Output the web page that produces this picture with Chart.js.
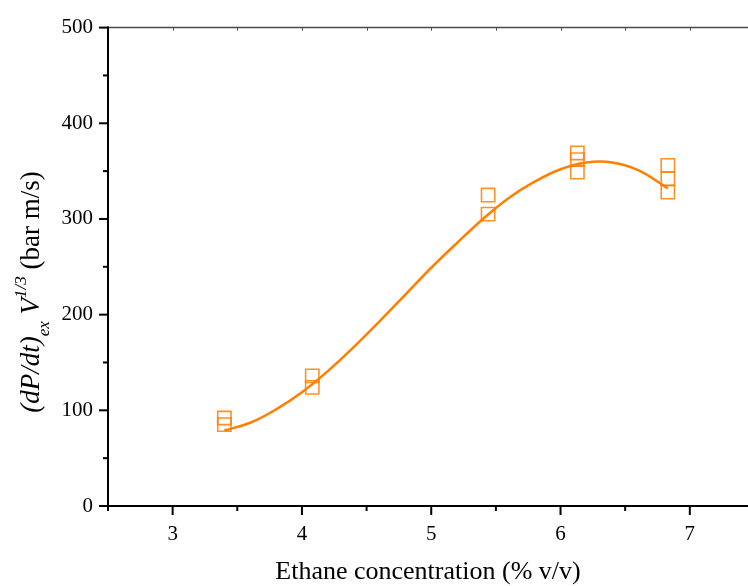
<!DOCTYPE html>
<html>
<head>
<meta charset="utf-8">
<script src="https://cdn.jsdelivr.net/npm/chart.js@4/dist/chart.umd.min.js"></script>
<style>
  html, body { margin: 0; padding: 0; background: #ffffff; }
  #wrap { width: 748px; height: 586px; }
</style>
</head>
<body>
<div id="wrap"><canvas id="c" width="748" height="586"></canvas></div>
<script>
// Measured rate of pressure rise (repeat runs at each concentration)
const concX = [3.4, 3.4, 4.08, 4.08, 5.44, 5.44, 6.13, 6.13, 6.13, 6.83, 6.83, 6.83];
const kstValues = [92, 85, 136, 124, 325, 305, 369, 362, 349, 356, 342, 328];

// Fitted trend line, sampled along the curve
const fitX = [3.40, 3.60, 3.80, 4.00, 4.20, 4.40, 4.60, 4.80, 5.00, 5.20, 5.40, 5.60, 5.80, 6.00, 6.20, 6.40, 6.60, 6.83];
const fitY = [79, 87, 101, 119, 141, 166, 193, 221, 249, 275, 300, 322, 339, 352, 359, 359, 351, 332];

// Axis ticks
const xMajorTicks = [3, 4, 5, 6, 7];
const xMinorTicks = [2.5, 3.5, 4.5, 5.5, 6.5];
const yMajorTicks = [0, 100, 200, 300, 400, 500];
const yMinorTicks = [50, 150, 250, 350, 450];

const ORANGE = '#ff7f00';
const SERIF = '"Liberation Serif", "DejaVu Serif", serif';

const measured = concX.map((x, i) => ({ x: x, y: kstValues[i] }));
const fitted = fitX.map((x, i) => ({ x: x, y: fitY[i] }));

// Axis lines, tick marks and the composite y-axis title
const frame = {
  id: 'frame',
  afterDraw(chart) {
    const { ctx, chartArea: a, scales: { x, y } } = chart;
    ctx.save();
    ctx.lineCap = 'butt';

    // top border with small inward ticks
    ctx.strokeStyle = '#4a4a4a';
    ctx.lineWidth = 1.5;
    ctx.beginPath();
    ctx.moveTo(a.left, a.top);
    ctx.lineTo(chart.width, a.top);
    ctx.stroke();
    ctx.lineWidth = 1;
    for (const v of xMajorTicks.concat(xMinorTicks, [7.5])) {
      const px = Math.round(x.getPixelForValue(v)) + 0.5;
      ctx.beginPath();
      ctx.moveTo(px, a.top);
      ctx.lineTo(px, a.top + 3);
      ctx.stroke();
    }

    ctx.strokeStyle = '#000';
    ctx.lineWidth = 2;
    // left axis
    ctx.beginPath();
    ctx.moveTo(a.left, a.top - 1);
    ctx.lineTo(a.left, a.bottom + 1);
    ctx.stroke();
    // bottom axis
    ctx.beginPath();
    ctx.moveTo(a.left - 1, a.bottom);
    ctx.lineTo(chart.width, a.bottom);
    ctx.stroke();

    // y ticks (outward)
    for (const v of yMajorTicks) {
      const py = y.getPixelForValue(v);
      ctx.beginPath(); ctx.moveTo(a.left - 9, py); ctx.lineTo(a.left, py); ctx.stroke();
    }
    for (const v of yMinorTicks) {
      const py = y.getPixelForValue(v);
      ctx.beginPath(); ctx.moveTo(a.left - 5, py); ctx.lineTo(a.left, py); ctx.stroke();
    }
    // x ticks (outward)
    for (const v of xMajorTicks) {
      const px = x.getPixelForValue(v);
      ctx.beginPath(); ctx.moveTo(px, a.bottom); ctx.lineTo(px, a.bottom + 9); ctx.stroke();
    }
    for (const v of xMinorTicks) {
      const px = x.getPixelForValue(v);
      ctx.beginPath(); ctx.moveTo(px, a.bottom); ctx.lineTo(px, a.bottom + 5); ctx.stroke();
    }

    // y-axis title: (dP/dt)_ex V^(1/3) (bar m/s)
    const parts = [
      { t: '(dP/dt)', f: 'italic 27px ' + SERIF, dy: 0 },
      { t: 'ex', f: 'italic 17px ' + SERIF, dy: 10 },
      { t: ' V', f: 'italic 27px ' + SERIF, dy: 0 },
      { t: '1/3', f: 'italic 17px ' + SERIF, dy: -13 },
      { t: ' (bar m/s)', f: '27px ' + SERIF, dy: 0 }
    ];
    let total = 0;
    for (const p of parts) { ctx.font = p.f; p.w = ctx.measureText(p.t).width; total += p.w; }
    ctx.translate(39, 292);
    ctx.rotate(-Math.PI / 2);
    ctx.fillStyle = '#000';
    ctx.textBaseline = 'alphabetic';
    ctx.textAlign = 'left';
    let cx = -total / 2;
    for (const p of parts) {
      ctx.font = p.f;
      ctx.fillText(p.t, cx, p.dy);
      cx += p.w;
    }
    ctx.restore();
  }
};

new Chart(document.getElementById('c'), {
  type: 'scatter',
  data: {
    datasets: [
      {
        type: 'line',
        label: 'fit',
        data: fitted,
        borderColor: ORANGE,
        borderWidth: 2.5,
        pointRadius: 0,
        fill: false,
        tension: 0.4
      },
      {
        label: 'measured',
        data: measured,
        pointStyle: 'rect',
        pointRadius: 9.4,
        pointBorderWidth: 1.6,
        borderColor: 'rgba(255,127,0,0.85)',
        backgroundColor: 'rgba(0,0,0,0)'
      }
    ]
  },
  options: {
    responsive: false,
    animation: false,
    events: [],
    layout: { autoPadding: false, padding: { top: 24, right: 0, bottom: 0, left: 0 } },
    plugins: { legend: { display: false }, tooltip: { enabled: false } },
    scales: {
      x: {
        type: 'linear',
        min: 2.5,
        max: 7.45,
        afterBuildTicks(s) { s.ticks = xMajorTicks.map(v => ({ value: v })); },
        afterFit(s) { s.height = 80; },
        grid: { display: false, drawTicks: false },
        border: { display: false },
        ticks: {
          padding: 16,
          color: '#000',
          font: { family: SERIF, size: 21 },
          maxRotation: 0,
          autoSkip: false
        },
        title: {
          display: true,
          text: 'Ethane concentration (% v/v)',
          color: '#000',
          font: { family: SERIF, size: 26 },
          padding: { top: 0, bottom: -2 }
        }
      },
      y: {
        type: 'linear',
        min: 0,
        max: 500,
        afterBuildTicks(s) { s.ticks = yMajorTicks.map(v => ({ value: v })); },
        afterFit(s) { s.width = 108; },
        grid: { display: false, drawTicks: false },
        border: { display: false },
        ticks: {
          padding: 15,
          color: '#000',
          font: { family: SERIF, size: 21 }
        }
      }
    }
  },
  plugins: [frame]
});
</script>
</body>
</html>
